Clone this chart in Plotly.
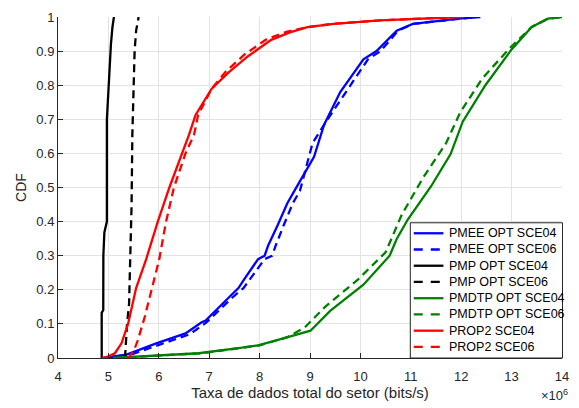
import plotly.graph_objects as go

# x values in units of 1e6 bits/s, y = CDF
pmee04_x = [4.89, 5.10, 5.36, 5.95, 6.53, 6.85, 6.93, 7.38, 7.58, 7.71, 7.97, 8.10, 8.17, 8.36, 8.55, 8.69, 9.08, 9.28, 9.60, 10.06, 10.32, 10.72, 11.04, 11.95, 12.38]
pmee04_y = [0.0, 0.005, 0.01, 0.043, 0.072, 0.105, 0.11, 0.176, 0.205, 0.234, 0.29, 0.30, 0.33, 0.39, 0.454, 0.49, 0.59, 0.684, 0.78, 0.876, 0.90, 0.96, 0.98, 0.995, 1.0]
pmee06_x = [4.95, 5.15, 5.45, 6.05, 6.62, 6.95, 7.45, 7.68, 7.85, 8.10, 8.25, 8.32, 8.48, 8.66, 8.80, 8.92, 9.05, 9.35, 9.72, 10.15, 10.40, 10.75, 11.05, 11.90, 12.30]
pmee06_y = [0.0, 0.005, 0.01, 0.04, 0.07, 0.105, 0.176, 0.205, 0.24, 0.29, 0.30, 0.33, 0.39, 0.454, 0.49, 0.56, 0.63, 0.70, 0.78, 0.876, 0.90, 0.96, 0.98, 0.995, 1.0]

pmp04_x = [4.867, 4.867, 4.898, 4.90, 4.92, 4.97, 4.97, 4.996, 5.03, 5.05, 5.08, 5.11]
pmp04_y = [0.0, 0.133, 0.14, 0.30, 0.368, 0.40, 0.70, 0.78, 0.84, 0.92, 0.97, 1.0]
pmp06_x = [5.33, 5.34, 5.37, 5.41, 5.44, 5.46, 5.475, 5.49, 5.51, 5.52, 5.55, 5.60]
pmp06_y = [0.0, 0.03, 0.10, 0.158, 0.30, 0.45, 0.655, 0.75, 0.85, 0.90, 0.96, 1.0]

pmdtp04_x = [5.09, 6.00, 6.79, 7.58, 7.97, 8.56, 9.01, 9.40, 10.06, 10.58, 10.72, 10.94, 11.40, 11.79, 12.03, 12.48, 13.00, 13.40, 13.72, 14.0]
pmdtp04_y = [0.0, 0.007, 0.014, 0.029, 0.037, 0.061, 0.08, 0.138, 0.215, 0.30, 0.349, 0.406, 0.503, 0.598, 0.693, 0.80, 0.905, 0.971, 0.995, 1.0]
pmdtp06_x = [5.12, 6.05, 6.85, 7.60, 8.00, 8.55, 8.90, 9.30, 9.95, 10.50, 10.65, 10.82, 11.25, 11.70, 11.98, 12.42, 12.97, 13.40, 13.72, 14.0]
pmdtp06_y = [0.0, 0.007, 0.014, 0.029, 0.037, 0.061, 0.09, 0.15, 0.23, 0.31, 0.36, 0.42, 0.53, 0.63, 0.72, 0.82, 0.91, 0.971, 0.995, 1.0]

prop204_x = [4.87, 5.00, 5.13, 5.26, 5.39, 5.55, 5.75, 5.98, 6.21, 6.47, 6.60, 6.73, 7.05, 7.38, 7.77, 8.23, 8.60, 8.95, 9.47, 10.38, 12.02]
prop204_y = [0.0, 0.005, 0.014, 0.043, 0.10, 0.205, 0.29, 0.40, 0.50, 0.60, 0.655, 0.713, 0.79, 0.837, 0.885, 0.933, 0.955, 0.97, 0.98, 0.99, 1.0]
prop206_x = [5.38, 5.42, 5.50, 5.58, 5.72, 5.85, 6.01, 6.14, 6.30, 6.53, 6.70, 6.78, 7.05, 7.33, 7.70, 8.15, 8.55, 8.95, 9.45, 10.40, 11.90]
prop206_y = [0.0, 0.005, 0.02, 0.05, 0.12, 0.195, 0.29, 0.397, 0.50, 0.60, 0.655, 0.713, 0.79, 0.84, 0.89, 0.936, 0.957, 0.97, 0.98, 0.99, 1.0]

names = ["PMEE OPT SCE04", "PMEE OPT SCE06", "PMP OPT SCE04", "PMP OPT SCE06",
         "PMDTP OPT SCE04", "PMDTP OPT SCE06", "PROP2 SCE04", "PROP2 SCE06"]
xs = [pmee04_x, pmee06_x, pmp04_x, pmp06_x, pmdtp04_x, pmdtp06_x, prop204_x, prop206_x]
ys = [pmee04_y, pmee06_y, pmp04_y, pmp06_y, pmdtp04_y, pmdtp06_y, prop204_y, prop206_y]
colors = ["#0000ff", "#0000ff", "#000000", "#000000", "#008000", "#008000", "#ff0000", "#ff0000"]
dashes = ["solid", "8px,5px"] * 4
legend_dashes = ["solid", "9px,8px"] * 4

FONT = "Liberation Sans, Arial, Helvetica"
TXT = "#262626"

fig = go.Figure()
for n, x, y, c, d in zip(names, xs, ys, colors, dashes):
    fig.add_trace(go.Scatter(x=x, y=y, mode="lines", name=n, showlegend=False,
                             line=dict(color=c, width=2.3, dash=d)))

axis_common = dict(showgrid=True, gridcolor="#e3e3e3", gridwidth=1,
                   showline=True, linecolor=TXT, linewidth=1, mirror=False,
                   ticks="inside", ticklen=5, tickcolor=TXT,
                   tickfont=dict(family=FONT, size=13, color=TXT),
                   zeroline=False)

fig.update_xaxes(range=[4, 14], tickmode="array", tickvals=list(range(4, 15)),
                 ticktext=[str(v) for v in range(4, 15)],
                 ticklabelstandoff=6,
                 title=dict(text="Taxa de dados total do setor (bits/s)",
                            font=dict(family=FONT, size=15, color=TXT),
                            standoff=4),
                 **axis_common)
fig.update_yaxes(range=[0, 1], tickmode="array", tickvals=[i / 10 for i in range(11)],
                 ticktext=["0", "0.1", "0.2", "0.3", "0.4", "0.5", "0.6", "0.7", "0.8", "0.9", "1"],
                 title=dict(text="CDF", font=dict(family=FONT, size=14, color=TXT),
                            standoff=6),
                 **axis_common)

fig.add_annotation(text="×10<sup>6</sup>", xref="paper", yref="paper", x=1.0, y=0,
                   xanchor="right", yanchor="top", yshift=-27, xshift=8, showarrow=False,
                   font=dict(family=FONT, size=13, color=TXT))

# --- legend box drawn in paper coordinates (MATLAB-style compact legend) ---
PL, PR, PT, PB = 57.5, 567.5, 10.0, 358.0
def px(xp):
    return (xp - PL) / (PR - PL)
def py(yp):
    return (PB - yp) / (PB - PT)

shapes = [dict(type="rect", xref="paper", yref="paper",
               x0=px(414), x1=px(568), y0=py(358), y1=py(220),
               fillcolor="white", line=dict(color=TXT, width=1), layer="above")]
row0, rowh = 230.7, 16.57
for i, (n, c, d) in enumerate(zip(names, colors, legend_dashes)):
    yc = row0 + i * rowh
    shapes.append(dict(type="line", xref="paper", yref="paper",
                       x0=px(417.5), x1=px(447.5), y0=py(yc), y1=py(yc),
                       line=dict(color=c, width=2.3, dash=d), layer="above"))
    fig.add_annotation(text=n, xref="paper", yref="paper", x=px(451), y=py(yc),
                       xanchor="left", yanchor="middle", showarrow=False,
                       font=dict(family=FONT, size=12.5, color="#000000"))

fig.update_layout(
    width=579, height=408,
    margin=dict(l=57.5, r=11.5, t=10, b=50),
    plot_bgcolor="white", paper_bgcolor="white",
    showlegend=False,
    shapes=shapes,
)

fig.write_html("out.html")
